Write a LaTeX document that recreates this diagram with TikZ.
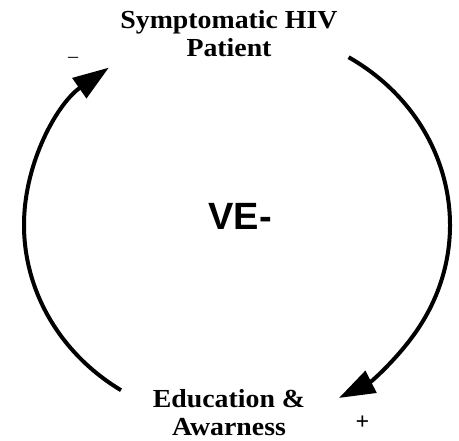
\documentclass[tikz,border=0pt]{standalone}
\usepackage{fontspec}
\setmainfont{Liberation Serif}
\newfontfamily\lblfont[FakeStretch=1.07]{Liberation Serif}
\newfontfamily\vefont{Liberation Sans}
\usetikzlibrary{arrows.meta,calc}
\begin{document}
\begin{tikzpicture}[x=1pt,y=1pt,
  lbl/.style={font=\lblfont\bfseries\fontsize{26}{28.5}\selectfont, align=center, inner sep=0pt, anchor=base},
  sign/.style={inner sep=0pt, anchor=base},
  loopline/.style={line width=4pt, -{Triangle[length=36pt,width=24pt]}}]
\useasboundingbox (0,0) rectangle (459,441);
\coordinate (c) at (237,216);
\node[lbl] (hiv) at (229,384) {Symptomatic HIV\\Patient};
\node[lbl] (edu) at (229,5) {Education \&\\Awarness};
\node[font=\vefont\bfseries\fontsize{38}{40}\selectfont, inner sep=0pt, anchor=base] (ve) at (240,211) {VE-};
\node[sign, font=\fontsize{20}{24}\selectfont] (minus) at (73,378) {–};
\node[sign, font=\bfseries\fontsize{24}{28}\selectfont] (plus) at (362.5,11) {+};
\coordinate (rs) at ($(c)+(58.4:213pt and 197pt)$);
\coordinate (ls) at ($(c)+(237:213pt and 197pt)$);
\draw[loopline] (rs) arc[start angle=58.4, end angle=-61.4, x radius=213pt, y radius=197pt];
\draw[loopline] (ls) arc[start angle=237, end angle=127, x radius=213pt, y radius=197pt];
\end{tikzpicture}
\end{document}
